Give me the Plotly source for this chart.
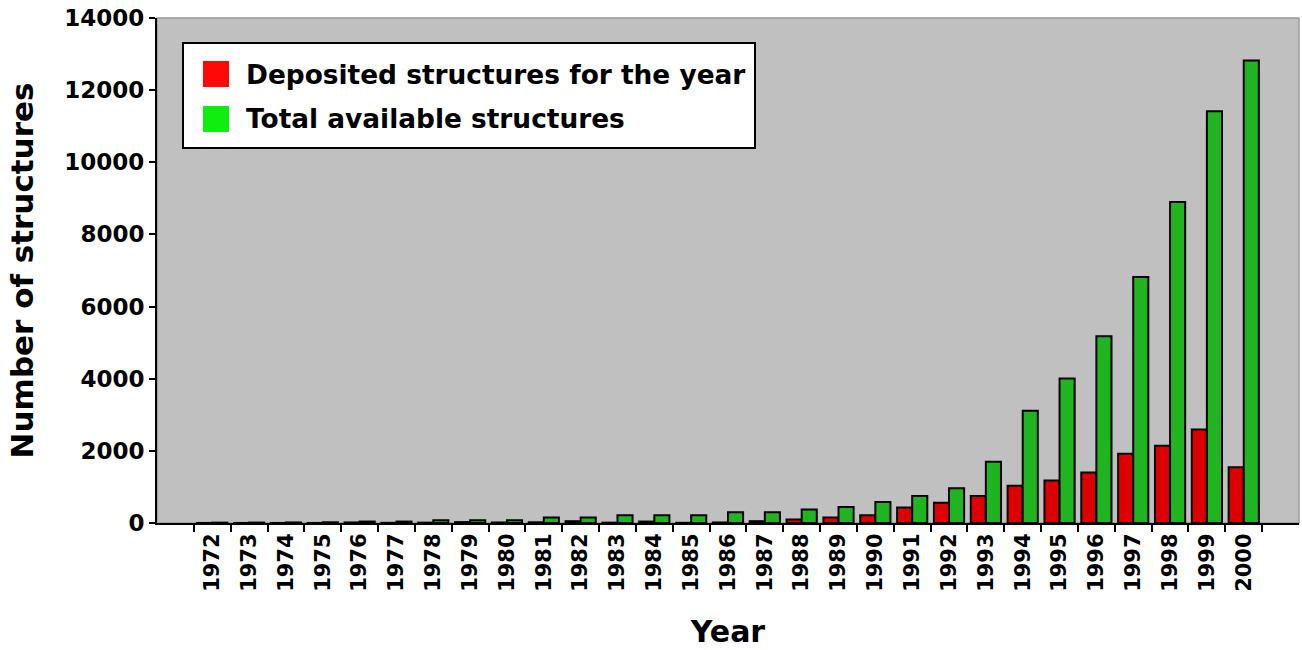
import plotly.graph_objects as go

years = [str(y) for y in range(1972, 2001)]
deposited = [1, 1, 1, 2, 15, 5, 10, 25, 15, 20, 50, 10, 40, 5, 15, 50, 95, 150, 215,
             430, 560, 750, 1035, 1180, 1400, 1920, 2140, 2595, 1545]
total = [10, 12, 15, 20, 40, 40, 75, 75, 75, 150, 150, 215, 215, 215, 297, 297, 371, 445, 584,
         751, 960, 1700, 3115, 4005, 5180, 6820, 8900, 11415, 12825]
y_ticks = [0, 2000, 4000, 6000, 8000, 10000, 12000, 14000]
legend_labels = ["Deposited structures for the year", "Total available structures"]

BAR_RED = "#dc0000"
BAR_GREEN = "#20b420"
LEG_RED = "#ff0808"
LEG_GREEN = "#10ee10"
FONT = "DejaVu Sans"

W, H = 1302, 650
# target plot area in window pixels: x 157..1299, y 18..523
ML, MT = 157, 18
MR = W - 1299
MB = H - 523
PW, PH = W - ML - MR, H - MT - MB

def px(x):
    return (x - ML) / PW

def py(y):
    return (H - MB - y) / PH

fig = go.Figure()
fig.add_trace(go.Bar(x=years, y=deposited, name=legend_labels[0], marker_color=BAR_RED,
                     marker_line=dict(color="black", width=2), showlegend=False))
fig.add_trace(go.Bar(x=years, y=total, name=legend_labels[1], marker_color=BAR_GREEN,
                     marker_line=dict(color="black", width=2), showlegend=False))

shapes = [
    dict(type="rect", xref="paper", yref="paper", x0=0, x1=1, y0=0, y1=1,
         line=dict(color="#9a9a9a", width=1.5), layer="below"),
    dict(type="rect", xref="paper", yref="paper", x0=px(183), x1=px(755), y0=py(148), y1=py(43),
         line=dict(color="black", width=2), fillcolor="white", layer="above"),
    dict(type="rect", xref="paper", yref="paper", x0=px(203), x1=px(229), y0=py(87), y1=py(61),
         line=dict(width=0), fillcolor=LEG_RED, layer="above"),
    dict(type="rect", xref="paper", yref="paper", x0=px(203), x1=px(229), y0=py(132), y1=py(106),
         line=dict(width=0), fillcolor=LEG_GREEN, layer="above"),
]
annotations = [
    dict(xref="paper", yref="paper", x=px(244), y=py(74), text=legend_labels[0], showarrow=False,
         xanchor="left", yanchor="middle", font=dict(family=FONT, size=26.4, color="black", weight="bold")),
    dict(xref="paper", yref="paper", x=px(244), y=py(119), text=legend_labels[1], showarrow=False,
         xanchor="left", yanchor="middle", font=dict(family=FONT, size=26.4, color="black", weight="bold")),
]

fig.update_layout(
    width=W, height=H,
    margin=dict(l=ML, r=MR, t=MT, b=MB),
    paper_bgcolor="white", plot_bgcolor="#c0c0c0",
    barmode="group", bargap=0.18, bargroupgap=0.0,
    shapes=shapes, annotations=annotations,
    showlegend=False,
    font=dict(family=FONT, color="black"),
)
fig.update_xaxes(
    type="category", categoryorder="array", categoryarray=years,
    range=[-1.5, len(years) + 0.5],
    tickson="boundaries", ticks="outside", ticklen=7, tickwidth=1.5, tickcolor="black",
    tickangle=-90, tickfont=dict(family=FONT, size=21, weight="bold"),
    showline=True, linecolor="black", linewidth=2, showgrid=False,
    title=dict(text="Year", font=dict(family=FONT, size=30, weight="bold"), standoff=30),
    automargin=False,
)
fig.update_yaxes(
    range=[0, 14000], tickvals=y_ticks, tickformat="d", ticks="outside", ticklen=6, tickwidth=1.5,
    tickcolor="black", ticklabeloverflow="allow",
    tickfont=dict(family=FONT, size=23, weight="bold"),
    showline=True, linecolor="black", linewidth=2, showgrid=False, zeroline=False,
    title=dict(text="Number of structures", font=dict(family=FONT, size=31, weight="bold"), standoff=22),
    automargin=False,
)

fig.write_html(
    "out.html",
    config={"displayModeBar": False},
    post_script="document.body.style.margin='0';document.body.style.overflow='hidden';",
)
